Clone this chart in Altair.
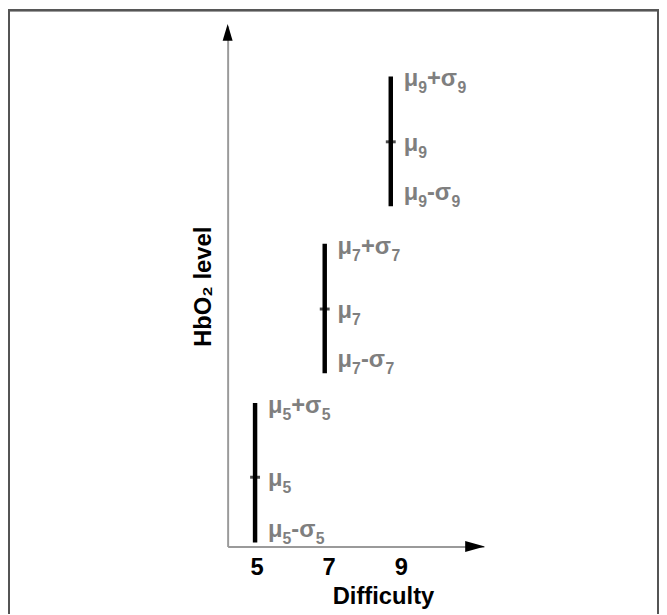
import altair as alt
import pandas as pd

# Difficulty levels (bar positions as drawn) and HbO2 level readings
# (arbitrary units)
bar_x = [4.96, 6.89, 8.72]
means = [70, 240, 409]
lows = [4, 175, 344]
highs = [145, 306, 475]
sub_digits = ["5", "7", "9"]
label_parts_hi = ["μ", "+σ"]
label_parts_mu = ["μ"]
label_parts_lo = ["μ", "-σ"]
x_ticks = [5, 7, 9]
x_domain = [4.2, 11.3]
y_domain = [0, 526]

df = pd.DataFrame({"d": bar_x, "mu": means, "lo": lows, "hi": highs,
                   "sub": sub_digits})
arrows = pd.DataFrame({
    "x": [x_domain[1], x_domain[0]],
    "y": [y_domain[0], y_domain[1]],
    "shape": ["M0.1,0L-2.1,-0.62L-2.1,0.62Z", "M0,-0.24L-0.56,1.65L0.56,1.65Z"],
})

FONT = "Liberation Sans"
FS = 24
SUB_FS = 16
GRAY = "#7f7f7f"
AXIS_GRAY = "#9a9a9a"
# advance widths (em) of Liberation Sans Bold glyphs used to chain label parts
W = {"μ": 0.611, "+σ": 1.204, "-σ": 0.953}
SUB_W = 0.556

PAD_L, PAD_T = 222, 15

xs = alt.Scale(domain=x_domain, nice=False, zero=False)
ys = alt.Scale(domain=y_domain, nice=False, zero=False)

x_enc = alt.X("d:Q", scale=xs, axis=alt.Axis(
    values=x_ticks, ticks=False, tickSize=0, grid=False, labelPadding=28,
    labelBaseline="alphabetic", labelFont=FONT, labelFontSize=FS,
    labelFontWeight="bold", labelColor="black", domainColor=AXIS_GRAY,
    domainWidth=2, title="Difficulty", titleFont=FONT, titleFontSize=FS,
    titleFontWeight="bold", titleColor="black", titleX=157, titleY=58,
    titleBaseline="alphabetic", titleAnchor="middle", labelFlush=False))

base = alt.Chart(df)

bars = base.mark_rule(color="black", strokeWidth=4.5).encode(
    x=x_enc,
    y=alt.Y("lo:Q", scale=ys, axis=alt.Axis(
        labels=False, ticks=False, grid=False, domainColor=AXIS_GRAY,
        domainWidth=2, title="HbO₂ level", titleFont=FONT, titleFontSize=FS,
        titleFontWeight="bold", titleColor="black", titlePadding=12)),
    y2="hi:Q",
)
mean_tick = base.mark_tick(color="black", orient="horizontal", size=10,
                           thickness=3).encode(
    x=alt.X("d:Q", scale=xs), y=alt.Y("mu:Q", scale=ys))


def txt(ycol, text, dx, dy, size):
    return base.mark_text(align="left", baseline="alphabetic", dx=dx, dy=dy,
                          font=FONT, fontSize=size, fontWeight="bold",
                          color=GRAY).encode(
        x=alt.X("d:Q", scale=xs), y=alt.Y(f"{ycol}:Q", scale=ys), text=text)


def label(ycol, parts, dy):
    layers = []
    dx = 13
    for i, p in enumerate(parts):
        layers.append(txt(ycol, alt.value(p), dx, dy, FS))
        dx += W[p] * FS + (2 if i > 0 else 0)
        layers.append(txt(ycol, alt.Text("sub:N"), dx, dy + 7, SUB_FS))
        dx += SUB_W * SUB_FS
    return layers


labels = (label("hi", label_parts_hi, 10) + label("mu", label_parts_mu, 9)
          + label("lo", label_parts_lo, -6))

arrow_marks = alt.Chart(arrows).mark_point(filled=True, color="black",
                                           size=324, opacity=1).encode(
    x=alt.X("x:Q", scale=xs), y=alt.Y("y:Q", scale=ys),
    shape=alt.Shape("shape:N", scale=None, legend=None))

frame = alt.Chart(df).mark_rect(fill=None, stroke="#555555",
                                strokeWidth=2, clip=False).encode(
    x=alt.value(1 - PAD_L), x2=alt.value(657 - PAD_L),
    y=alt.value(-1 - PAD_T), y2=alt.value(640))

chart = alt.layer(frame, bars, mean_tick, *labels, arrow_marks).properties(
    width=259, height=526,
    background="white",
    autosize=alt.AutoSizeParams(type="none"),
    padding={"left": PAD_L, "top": PAD_T, "right": 658 - PAD_L - 259,
             "bottom": 606 - PAD_T - 526},
).configure_view(stroke=None, strokeWidth=0)

chart.save("out.html", embed_options={"renderer": "svg", "actions": False})
